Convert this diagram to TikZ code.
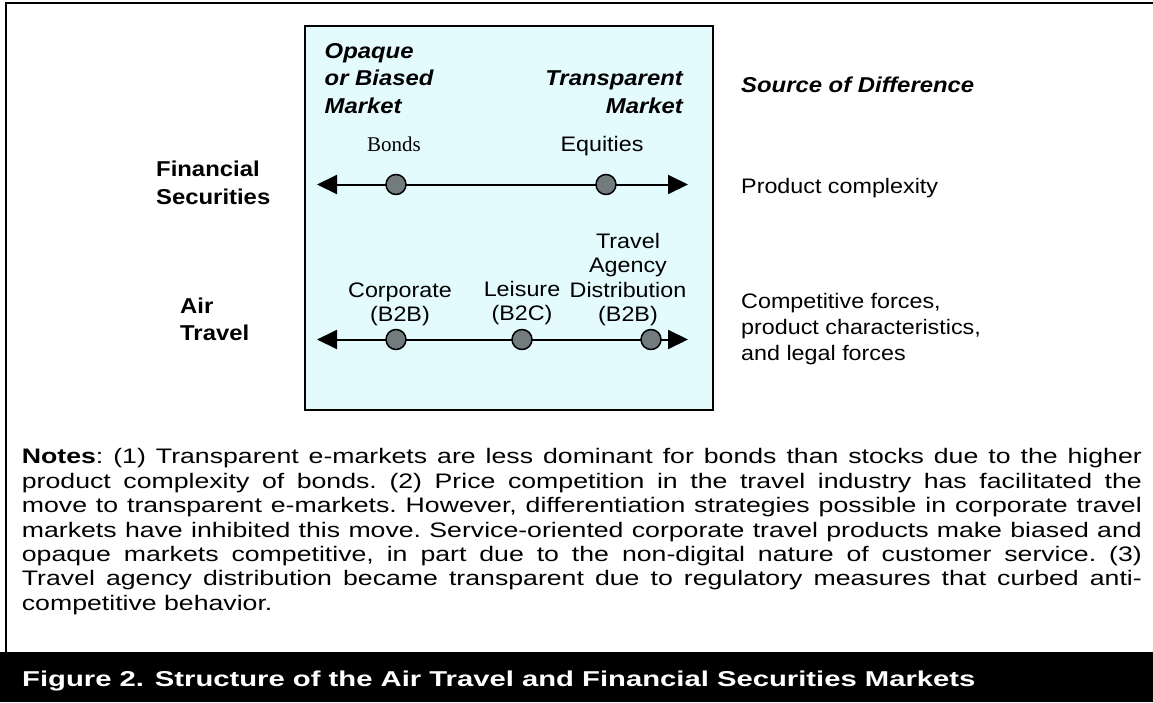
\documentclass[tikz,border=0pt]{standalone}
\usepackage{fontspec}
\setmainfont{Liberation Sans}[FakeStretch=1.11]
\newfontfamily\notesfont{Liberation Sans}[FakeStretch=1.27]
\newfontfamily\captionfont{Liberation Sans}[FakeStretch=1.36]
\newfontfamily\timesfont{Liberation Serif}
\usetikzlibrary{arrows.meta}

\begin{document}
\begin{tikzpicture}[x=1pt, y=-1pt]
  % Colors
  \definecolor{panel}{HTML}{E4FBFD}
  \definecolor{marker}{HTML}{727C7C}

  % Configurations
  \tikzset{
    axis/.style={line width=2pt,
      {Triangle[length=20pt,width=19pt]}-{Triangle[length=20pt,width=19pt]}},
    marketdot/.style={circle, draw, line width=1.5pt, fill=marker,
      minimum size=20pt, inner sep=0pt},
    head/.style={inner sep=0pt, align=left,
      font=\fontsize{21.5}{27.5}\selectfont\bfseries\itshape},
    rowname/.style={inner sep=0pt, align=left, anchor=base west,
      font=\fontsize{21.5}{27.3}\selectfont\bfseries},
    item/.style={inner sep=0pt, align=center, anchor=base,
      font=\fontsize{21}{24.5}\selectfont},
    reason/.style={inner sep=0pt, align=left, anchor=base west,
      font=\fontsize{21}{26}\selectfont},
    notes/.style={inner sep=0pt, anchor=north west, text width=1120pt,
      align=justify, font=\notesfont\fontsize{21}{24.4}\selectfont},
    caption/.style={inner sep=0pt, anchor=base west, text=white,
      font=\captionfont\fontsize{21.5}{26}\selectfont\bfseries}
  }

  % Bounding box
  \useasboundingbox (0,0) rectangle (1153,702);
  \fill [white] (0,0) rectangle (1153,702);

  % Frame and caption bar
  \draw [line width=2pt] (6,652) -- (6,3) -- (1153,3);
  \fill [black] (0,652) rectangle (1153,702);

  % Market panel
  \draw [line width=2pt, fill=panel] (305,26) rectangle (712.5,410);

  % Column headings (base = last line)
  \node [head, anchor=base west] (opaque) at (324.5,113)
    {Opaque\\or Biased\\Market};
  \node [head, anchor=base east, align=right] (transparent) at (683,113)
    {Transparent\\Market};
  \node [head, anchor=base west] (source) at (741,92)
    {Source of Difference};

  % Financial securities
  \node [rowname] (financial) at (156,204) {Financial\\Securities};
  \node [item, font=\timesfont\fontsize{21}{24.5}\selectfont] (bonds)
    at (394,151) {Bonds};
  \node [item] (equities) at (602,151) {Equities};
  \coordinate (fsleft) at (317,184.5);
  \coordinate (fsright) at (688,184.5);
  \draw [axis] (fsleft) -- (fsright);
  \node [marketdot] (bondsdot) at (396,184.5) {};
  \node [marketdot] (equitiesdot) at (606,184.5) {};
  \node [reason] (complexity) at (741,193) {Product complexity};

  % Air travel
  \node [rowname] (airtravel) at (180,340.7) {Air\\Travel};
  \node [item] (corporate) at (400,321.5) {Corporate\\(B2B)};
  \node [item] (leisure) at (522,320.5) {Leisure\\(B2C)};
  \node [item] (agency) at (628,321.7)
    {Travel\\Agency\\Distribution\\(B2B)};
  \coordinate (atleft) at (317,339.5);
  \coordinate (atright) at (688,339.5);
  \draw [axis] (atleft) -- (atright);
  \node [marketdot] (corporatedot) at (396,339.5) {};
  \node [marketdot] (leisuredot) at (522,339.5) {};
  \node [marketdot] (agencydot) at (651,339.5) {};
  \node [reason] (forces) at (741,360)
    {Competitive forces,\\product characteristics,\\and legal forces};

  % Notes
  \node [notes] (notes) at (21.7,448.5) {\frenchspacing\textbf{Notes}: (1)
    Transparent e-markets are less dominant for bonds than stocks due to the
    higher\linebreak
    product complexity of bonds. (2) Price competition in the travel industry
    has facilitated the\linebreak
    move to transparent e-markets. However, differentiation strategies
    possible in corporate travel\linebreak
    markets have inhibited this move. Service-oriented corporate travel
    products make biased and\linebreak
    opaque markets competitive, in part due to the non-digital nature of
    customer service. (3)\linebreak
    Travel agency distribution became transparent due to regulatory measures
    that curbed anti-\linebreak
    competitive behavior.};

  % Caption
  \node [caption] (figcap) at (22,686)
    {Figure 2. Structure of the Air Travel and Financial Securities Markets};
\end{tikzpicture}
\end{document}
